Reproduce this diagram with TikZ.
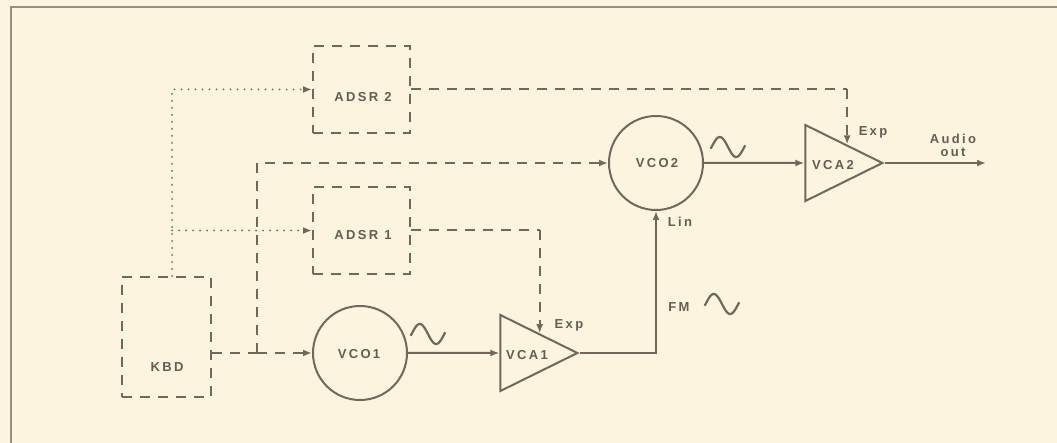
\documentclass[tikz,border=0pt]{standalone}
\usepackage{fontspec}
\setmainfont{Liberation Sans}
\newfontfamily\lblfont[LetterSpace=18]{Liberation Sans}
\usetikzlibrary{arrows.meta,calc,shapes.geometric}
\definecolor{bg}{RGB}{252,244,222}
\definecolor{ink}{RGB}{112,104,92}
\definecolor{txt}{RGB}{100,93,83}
\definecolor{framec}{RGB}{150,142,130}
\begin{document}
\begin{tikzpicture}[x=1pt,y=-1pt,
  ln/.style={draw=ink,line width=2pt},
  dsh/.style={draw=ink,line width=2pt,dash pattern=on 10pt off 8pt,dash phase=0pt},
  dotl/.style={draw=ink,line width=2pt,dash pattern=on 0pt off 7pt,line cap=round},
  arr/.style={-{Latex[length=9pt,width=7pt]}},
  box/.style={dsh,minimum width=97pt,minimum height=87pt,inner sep=0pt},
  osc/.style={circle,ln,minimum size=94pt,inner sep=0pt},
  amp/.style={isosceles triangle,isosceles triangle stretches,ln,minimum width=76pt,minimum height=77pt,inner sep=0pt,shape border rotate=0},
  lbl/.style={text=txt,font=\lblfont\bfseries\fontsize{13}{15}\selectfont,inner sep=0pt},
  sinewave/.pic={\draw[ln,line width=2.2pt] plot[domain=-10:370,samples=50] ({\x/11-16.4},{-10*sin(\x)});}
]
\fill[bg] (0,0) rectangle (1057,443);
\useasboundingbox (0,0) rectangle (1057,443);
\draw[framec,line width=1.2pt] (11,443) -- (11,7) -- (1057,7);

% blocks
\node[box] (adsr2) at (361.5,89.5) {};
\node[box] (adsr1) at (361.5,230.5) {};
\node[box,minimum width=89pt,minimum height=120pt] (kbd) at (166.5,337) {};
\node[osc] (vco1) at (360,353) {};
\node[osc] (vco2) at (656,163) {};
\node[amp,anchor=apex] (vca1) at (580,353) {};
\node[amp,anchor=apex] (vca2) at (885,163) {};

% labels
\node[lbl] (tadsr2) at (363,97) {ADSR 2};
\node[lbl] (tadsr1) at (363,235) {ADSR 1};
\node[lbl] (tkbd) at (167,367) {KBD};
\node[lbl] (tvco1) at (359,354) {VCO1};
\node[lbl] (tvco2) at (657,163.5) {VCO2};
\node[lbl,anchor=west] (tvca1) at (506,355) {VCA1};
\node[lbl,anchor=west] (tvca2) at (812,165) {VCA2};
\node[lbl] (texp1) at (569,325) {Exp};
\node[lbl] (texp2) at (873,132) {Exp};
\node[lbl] (tlin) at (680,222) {Lin};
\node[lbl] (tfm) at (679,307.5) {FM};
\node[lbl,align=center] (taudio) at (953,145) {Audio\\[-2pt]out};

% sine glyphs
\pic at (428,334) {sinewave};
\pic at (728,147) {sinewave};
\pic at (722,304) {sinewave};

% helper coordinates
\coordinate (kt) at ($(kbd.north)+(5.5,0)$);
\coordinate (kj) at (kt |- adsr1.west);
\coordinate (br) at (257,353);
\coordinate (vca1in) at ($(vca1.left corner)!0.5!(vca1.right corner)$);
\coordinate (vca2in) at ($(vca2.left corner)!0.5!(vca2.right corner)$);
\coordinate (e1) at ($(vca1.left corner)!0.5!(vca1.apex)$);
\coordinate (e2) at ($(vca2.left corner)!0.53!(vca2.apex)$);
\coordinate (aout) at (986,163);
\coordinate (c1) at (e1 |- adsr1.east);
\coordinate (c2) at (e2 |- adsr2.east);
\coordinate (ks) at (kbd.east |- vco1.west);

% connectors
\draw[dotl,arr] (kt) |- (adsr2.west);
\draw[dotl,arr] (kj) -- (adsr1.west);
\draw[dsh] (ks) -- (br);
\draw[dsh,arr] (br) -- (vco1.west);
\draw[dsh,arr] (br) |- (vco2.west);
\draw[dsh] (adsr1.east) -- (c1);
\draw[dsh,arr] (c1) -- (e1);
\draw[dsh] (adsr2.east) -- (c2);
\draw[dsh,arr] (c2) -- (e2);
\draw[ln,arr] (vco1.east) -- (vca1in);
\draw[ln,arr] (vca1.apex) -| (vco2.south);
\draw[ln,arr] (vco2.east) -- (vca2in);
\draw[ln,arr] (vca2.apex) -- (aout);
\end{tikzpicture}
\end{document}
